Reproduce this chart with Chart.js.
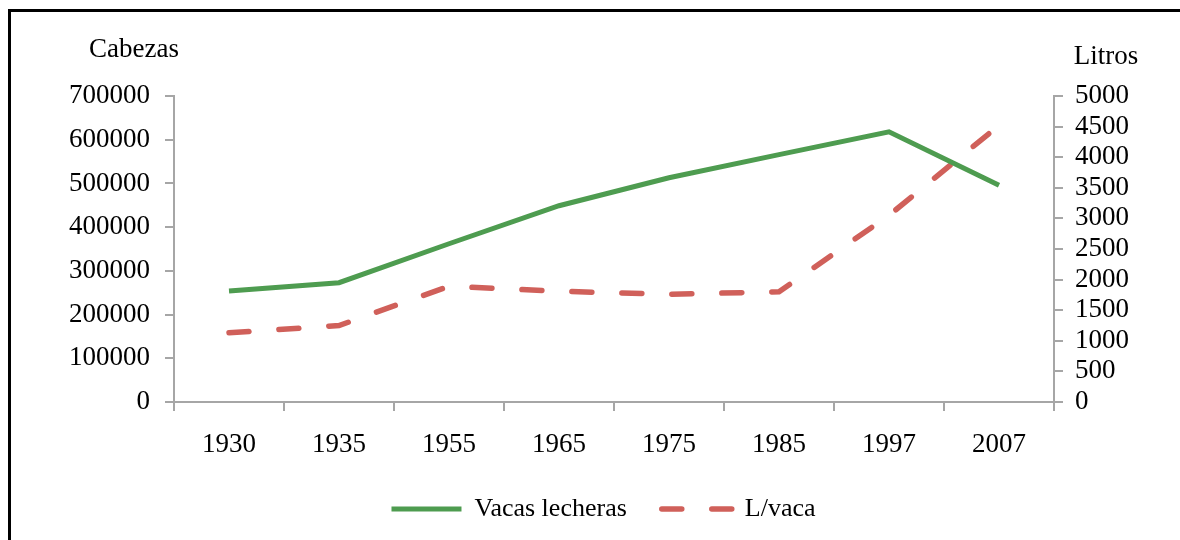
<!DOCTYPE html>
<html lang="es">
<head>
  <meta charset="UTF-8">
  <title>Vacas lecheras y L/vaca</title>
  <script src="https://cdn.jsdelivr.net/npm/chart.js"></script>
  <style>
    html, body { margin: 0; padding: 0; background: #fff; }
    #wrap { position: relative; width: 1180px; height: 540px; overflow: hidden; }
    #frame { position: absolute; left: 8px; top: 9px; width: 1300px; height: 700px;
             border-left: 3px solid #000; border-top: 3px solid #000; }
    canvas { position: absolute; left: 0; top: 0; }
  </style>
</head>
<body>
  <div id="wrap">
    <div id="frame"></div>
    <canvas id="chart" width="1180" height="540"></canvas>
  </div>

  <script>
    const years = ['1930', '1935', '1955', '1965', '1975', '1985', '1997', '2007'];
    const vacasLecheras = [254000, 273000, 362000, 449000, 513000, 566000, 618000, 496000];
    const litrosPorVaca = [1130, 1250, 1890, 1810, 1760, 1800, 3050, 4520];
    const cabezasTicks = [0, 100000, 200000, 300000, 400000, 500000, 600000, 700000];
    const litrosTicks = [0, 500, 1000, 1500, 2000, 2500, 3000, 3500, 4000, 4500, 5000];

    const fontFam = '"Liberation Serif", "Times New Roman", serif';
    const axisGray = '#a6a6a6';
    const green = '#4e9c50';
    const red = '#d0605a';
    const redDash = [20, 30];

    Chart.defaults.font.family = fontFam;
    Chart.defaults.font.size = 27;
    Chart.defaults.color = '#000';

    // titulos de los ejes, horizontales encima de cada eje
    const axisTitles = {
      id: 'axisTitles',
      afterDraw(chart) {
        const { ctx, chartArea } = chart;
        ctx.save();
        ctx.font = '27px ' + fontFam;
        ctx.fillStyle = '#000';
        ctx.textAlign = 'center';
        ctx.textBaseline = 'middle';
        ctx.fillText('Cabezas', chartArea.left - 40, chartArea.top - 46);
        ctx.fillText('Litros', chartArea.right + 52, chartArea.top - 39);
        ctx.restore();
      }
    };

    new Chart(document.getElementById('chart'), {
      type: 'line',
      data: {
        labels: years,
        datasets: [{
          label: 'Vacas lecheras',
          data: vacasLecheras,
          yAxisID: 'y',
          borderColor: green,
          backgroundColor: green,
          borderWidth: 5,
          pointRadius: 0,
          pointStyle: 'line',
          tension: 0
        }, {
          label: 'L/vaca',
          data: litrosPorVaca,
          yAxisID: 'y1',
          borderColor: red,
          backgroundColor: red,
          borderWidth: 5.5,
          borderDash: redDash,
          borderCapStyle: 'round',
          pointRadius: 0,
          pointStyle: 'line',
          tension: 0
        }]
      },
      options: {
        responsive: false,
        animation: false,
        // padding izquierdo para centrar la leyenda como en el original
        layout: { padding: { left: 27, right: 0, top: 96, bottom: 8 } },
        plugins: {
          legend: {
            position: 'bottom',
            labels: {
              usePointStyle: true,
              pointStyleWidth: 70,
              boxHeight: 27,
              padding: 35,
              font: { size: 26 },
              generateLabels(chart) {
                const items = Chart.defaults.plugins.legend.labels.generateLabels(chart);
                items.forEach(it => {
                  const ds = chart.data.datasets[it.datasetIndex];
                  it.lineDash = ds.borderDash || [];
                  it.lineCap = ds.borderCapStyle || 'butt';
                  it.lineWidth = ds.borderWidth;
                  it.strokeStyle = ds.borderColor;
                });
                return items;
              }
            }
          },
          tooltip: { enabled: false }
        },
        scales: {
          x: {
            offset: true,
            grid: { display: true, offset: true, drawOnChartArea: false, drawTicks: true,
                    tickLength: 9, color: axisGray, lineWidth: 2 },
            border: { display: true, color: axisGray, width: 2 },
            ticks: { padding: 18, maxRotation: 0 },
            afterFit(s) { s.height = 59; }
          },
          y: {
            position: 'left',
            min: 0, max: 700000,
            afterBuildTicks(s) { s.ticks = cabezasTicks.map(v => ({ value: v })); },
            grid: { display: true, drawOnChartArea: false, drawTicks: true,
                    tickLength: 9, color: axisGray, lineWidth: 2 },
            border: { display: true, color: axisGray, width: 2 },
            ticks: { padding: 15, autoSkip: false, callback: v => String(v) },
            afterFit(s) { s.width = 147; }
          },
          y1: {
            position: 'right',
            min: 0, max: 5000,
            afterBuildTicks(s) { s.ticks = litrosTicks.map(v => ({ value: v })); },
            grid: { display: true, drawOnChartArea: false, drawTicks: true,
                    tickLength: 9, color: axisGray, lineWidth: 2 },
            border: { display: true, color: axisGray, width: 2 },
            ticks: { padding: 12, autoSkip: false, callback: v => String(v) },
            afterFit(s) { s.width = 126; }
          }
        }
      },
      plugins: [axisTitles]
    });
  </script>
</body>
</html>
